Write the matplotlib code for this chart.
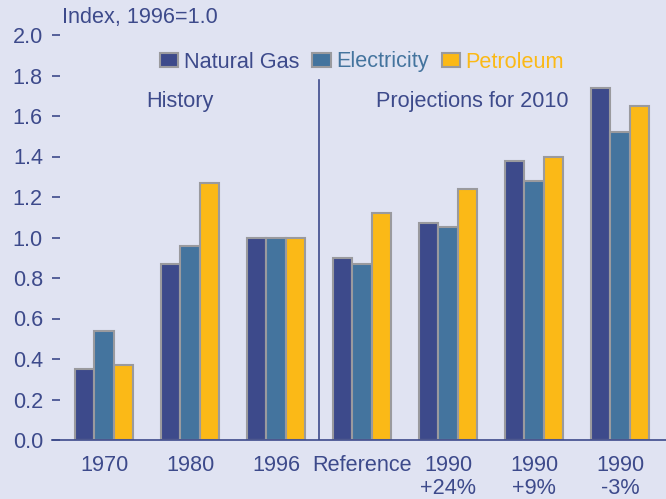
import matplotlib
matplotlib.use("Agg")
import matplotlib.pyplot as plt
import numpy as np

# Values
groups = ['1970', '1980', '1996', 'Reference', '1990\n+24%', '1990\n+9%', '1990\n-3%']
natural_gas = [0.35, 0.87, 1.00, 0.90, 1.07, 1.38, 1.74]
electricity = [0.54, 0.96, 1.00, 0.87, 1.05, 1.28, 1.52]
petroleum = [0.37, 1.27, 1.00, 1.12, 1.24, 1.40, 1.65]
series_names = ['Natural Gas', 'Electricity', 'Petroleum']
y_ticks = [0.0, 0.2, 0.4, 0.6, 0.8, 1.0, 1.2, 1.4, 1.6, 1.8, 2.0]

bg = '#e0e3f2'
navy = '#3d4a8b'
steel = '#44749e'
yellow = '#fbb917'
edge = '#9a9a9e'
fs = 15.6

plt.rcParams['font.family'] = ['Liberation Sans', 'DejaVu Sans']

fig = plt.figure(figsize=(6.66, 4.99), dpi=100, facecolor=bg)
ax = fig.add_axes([52 / 666, 1 - 440 / 499, 614 / 666, 405 / 499])
ax.set_facecolor(bg)

x = np.arange(len(groups))
w = 0.222
series = [natural_gas, electricity, petroleum]
colors = [navy, steel, yellow]
for i, (vals, col, name) in enumerate(zip(series, colors, series_names)):
    ax.bar(x + (i - 1) * w, vals, width=w, color=col, edgecolor=edge,
           linewidth=1.5, label=name, zorder=2)

ax.set_ylim(0, 2.0)
ax.set_xlim(-0.605, 6.535)
ax.set_yticks(y_ticks)
ax.set_yticklabels([f'{v:.1f}' for v in y_ticks])
ax.set_xticks(x)
ax.set_xticklabels(groups, linespacing=1.12)
ax.tick_params(axis='y', direction='in', length=6, width=1.2, color=navy,
               labelcolor=navy, labelsize=fs, pad=6.5)
ax.tick_params(axis='x', length=0, labelcolor=navy, labelsize=fs, pad=10.5)
for s in ['left', 'top', 'right']:
    ax.spines[s].set_visible(False)
ax.spines['bottom'].set_color(navy)
ax.spines['bottom'].set_linewidth(1.2)

# divider between history and projections
ax.axvline(2.5, ymin=0, ymax=(440 - 80) / 405, color=navy, linewidth=1.2, zorder=1)

ax.text(0.88, 1.67, 'History', color=navy, fontsize=fs, ha='center', va='center')
ax.text(4.28, 1.67, 'Projections for 2010', color=navy, fontsize=fs, ha='center', va='center')
fig.text(62 / 666, 1 - 18 / 499, 'Index, 1996=1.0', color=navy, fontsize=fs, ha='left', va='center')

ax.legend(loc='center', bbox_to_anchor=(362 / 666, 1 - 62 / 499), bbox_transform=fig.transFigure,
          ncol=3, frameon=False, fontsize=fs, handlelength=0.85, handleheight=0.6,
          handletextpad=0.25, columnspacing=0.6, borderpad=0,
          labelcolor=[navy, steel, yellow])

fig.savefig('out.png', dpi=100, facecolor=bg)
